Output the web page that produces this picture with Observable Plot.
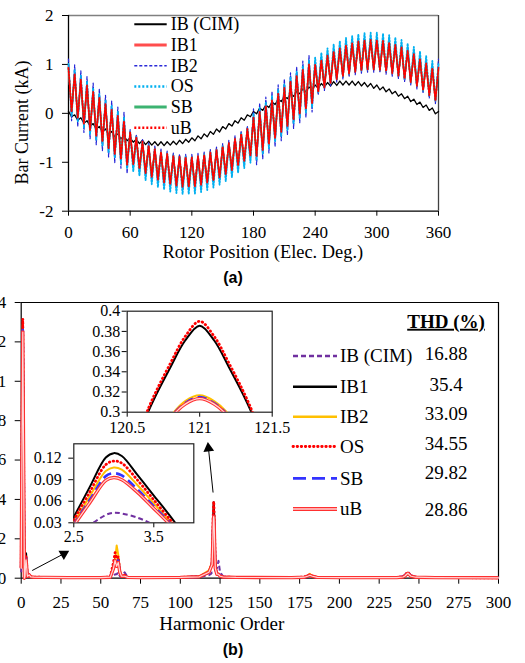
<!DOCTYPE html>
<html>
<head>
<meta charset="utf-8">
<script src="https://cdn.jsdelivr.net/npm/d3@7"></script>
<script src="https://cdn.jsdelivr.net/npm/@observablehq/plot@0.6"></script>
<style>
html,body{margin:0;padding:0;background:#fff;}
#root{position:relative;width:525px;height:663px;overflow:hidden;background:#fff;}
</style>
</head>
<body>
<div id="root"></div>
<script>
// ---------- (a) Bar current vs rotor position ----------
const angles = [0,3,6,9,12,15,18,21,24,27,30,33,36,39,42,45,48,51,54,57,60,63,66,69,72,75,78,81,84,87,90,93,96,99,102,105,108,111,114,117,120,123,126,129,132,135,138,141,144,147,150,153,156,159,162,165,168,171,174,177,180,183,186,189,192,195,198,201,204,207,210,213,216,219,222,225,228,231,234,237,240,243,246,249,252,255,258,261,264,267,270,273,276,279,282,285,288,291,294,297,300,303,306,309,312,315,318,321,324,327,330,333,336,339,342,345,348,351,354,357,360];
const ibCIM = [0.04,-0.07,-0.03,-0.14,-0.09,-0.20,-0.15,-0.26,-0.21,-0.32,
-0.27,-0.38,-0.32,-0.43,-0.37,-0.48,-0.42,-0.52,-0.46,-0.56,
-0.50,-0.59,-0.53,-0.62,-0.55,-0.64,-0.57,-0.65,-0.58,-0.66,
-0.58,-0.66,-0.58,-0.65,-0.57,-0.64,-0.55,-0.62,-0.53,-0.59,
-0.50,-0.56,-0.46,-0.52,-0.42,-0.48,-0.37,-0.43,-0.32,-0.38,
-0.27,-0.32,-0.21,-0.26,-0.15,-0.20,-0.09,-0.14,-0.03,-0.07,
0.04,-0.01,0.11,0.06,0.17,0.12,0.23,0.18,0.29,0.24,
0.35,0.30,0.40,0.35,0.45,0.40,0.50,0.44,0.54,0.48,
0.58,0.51,0.61,0.54,0.63,0.56,0.65,0.57,0.66,0.58,
0.66,0.58,0.66,0.57,0.65,0.56,0.63,0.54,0.61,0.51,
0.58,0.48,0.54,0.44,0.50,0.40,0.45,0.35,0.40,0.30,
0.35,0.24,0.29,0.18,0.23,0.12,0.17,0.06,0.11,-0.01,
0.04];
const ib1 = [0.95,0.01,0.83,-0.11,0.71,-0.23,0.59,-0.36,0.46,-0.48,
0.34,-0.60,0.21,-0.73,0.09,-0.85,-0.03,-0.96,-0.14,-1.07,
-0.37,-1.06,-0.47,-1.15,-0.56,-1.24,-0.64,-1.32,-0.71,-1.38,
-0.77,-1.43,-0.81,-1.47,-0.85,-1.50,-0.87,-1.52,-0.88,-1.52,
-0.88,-1.51,-0.86,-1.48,-0.83,-1.44,-0.78,-1.39,-0.73,-1.33,
-0.66,-1.26,-0.59,-1.18,-0.50,-1.09,-0.40,-0.99,-0.30,-0.88,
-0.07,-0.89,0.05,-0.77,0.17,-0.65,0.29,-0.52,0.42,-0.40,
0.54,-0.28,0.67,-0.15,0.79,-0.03,0.91,0.08,1.02,0.19,
1.01,0.42,1.11,0.51,1.20,0.60,1.28,0.68,1.35,0.74,
1.41,0.79,1.45,0.83,1.49,0.86,1.51,0.88,1.52,0.88,
1.52,0.87,1.50,0.84,1.47,0.80,1.42,0.75,1.37,0.69,
1.30,0.62,1.23,0.54,1.14,0.45,1.04,0.35,0.94,0.24,
0.95];
const ib2 = [1.11,-0.15,0.99,-0.27,0.87,-0.39,0.75,-0.52,0.62,-0.64,
0.50,-0.76,0.37,-0.89,0.25,-1.01,0.13,-1.12,0.02,-1.23,
-0.33,-1.10,-0.43,-1.19,-0.52,-1.28,-0.60,-1.36,-0.67,-1.42,
-0.73,-1.47,-0.77,-1.51,-0.81,-1.54,-0.83,-1.56,-0.84,-1.56,
-0.84,-1.55,-0.82,-1.52,-0.79,-1.48,-0.74,-1.43,-0.69,-1.37,
-0.62,-1.30,-0.55,-1.22,-0.46,-1.13,-0.36,-1.03,-0.26,-0.92,
0.09,-1.05,0.21,-0.93,0.33,-0.81,0.45,-0.68,0.58,-0.56,
0.70,-0.44,0.83,-0.31,0.95,-0.19,1.07,-0.08,1.18,0.03,
1.05,0.38,1.15,0.47,1.24,0.56,1.32,0.64,1.39,0.70,
1.45,0.75,1.49,0.79,1.53,0.82,1.55,0.84,1.56,0.84,
1.56,0.83,1.54,0.80,1.51,0.76,1.46,0.71,1.41,0.65,
1.34,0.58,1.27,0.50,1.18,0.41,1.08,0.31,0.98,0.20,
1.11];
const os = [1.01,-0.05,0.89,-0.17,0.77,-0.29,0.65,-0.42,0.52,-0.54,
0.40,-0.66,0.27,-0.79,0.15,-0.91,0.03,-1.02,-0.08,-1.13,
-0.38,-1.19,-0.48,-1.28,-0.57,-1.37,-0.65,-1.45,-0.72,-1.51,
-0.78,-1.56,-0.82,-1.60,-0.86,-1.63,-0.88,-1.65,-0.89,-1.65,
-0.89,-1.64,-0.87,-1.61,-0.84,-1.57,-0.79,-1.52,-0.74,-1.46,
-0.67,-1.39,-0.60,-1.31,-0.51,-1.22,-0.41,-1.12,-0.31,-1.01,
-0.01,-0.95,0.11,-0.83,0.23,-0.71,0.35,-0.58,0.48,-0.46,
0.60,-0.34,0.73,-0.21,0.85,-0.09,0.97,0.02,1.08,0.13,
1.14,0.43,1.24,0.52,1.33,0.61,1.41,0.69,1.48,0.75,
1.54,0.80,1.58,0.84,1.62,0.87,1.64,0.89,1.65,0.89,
1.65,0.88,1.63,0.85,1.60,0.81,1.55,0.76,1.50,0.70,
1.43,0.63,1.36,0.55,1.27,0.46,1.17,0.36,1.07,0.25,
1.01];
const sb = [0.91,0.05,0.79,-0.07,0.67,-0.19,0.55,-0.32,0.42,-0.44,
0.30,-0.56,0.17,-0.69,0.05,-0.81,-0.07,-0.92,-0.18,-1.03,
-0.41,-1.02,-0.51,-1.11,-0.60,-1.20,-0.68,-1.28,-0.75,-1.34,
-0.81,-1.39,-0.85,-1.43,-0.89,-1.46,-0.91,-1.48,-0.92,-1.48,
-0.92,-1.47,-0.90,-1.44,-0.87,-1.40,-0.82,-1.35,-0.77,-1.29,
-0.70,-1.22,-0.63,-1.14,-0.54,-1.05,-0.44,-0.95,-0.34,-0.84,
-0.11,-0.85,0.01,-0.73,0.13,-0.61,0.25,-0.48,0.38,-0.36,
0.50,-0.24,0.63,-0.11,0.75,0.01,0.87,0.12,0.98,0.23,
0.97,0.46,1.07,0.55,1.16,0.64,1.24,0.72,1.31,0.78,
1.37,0.83,1.41,0.87,1.45,0.90,1.47,0.92,1.48,0.92,
1.48,0.91,1.46,0.88,1.43,0.84,1.38,0.79,1.33,0.73,
1.26,0.66,1.19,0.58,1.10,0.49,1.00,0.39,0.90,0.28,
0.91];
const ub = [0.93,0.03,0.81,-0.09,0.69,-0.21,0.57,-0.34,0.44,-0.46,
0.32,-0.58,0.19,-0.71,0.07,-0.83,-0.05,-0.94,-0.16,-1.05,
-0.39,-1.04,-0.49,-1.13,-0.58,-1.22,-0.66,-1.30,-0.73,-1.36,
-0.79,-1.41,-0.83,-1.45,-0.87,-1.48,-0.89,-1.50,-0.90,-1.50,
-0.90,-1.49,-0.88,-1.46,-0.85,-1.42,-0.80,-1.37,-0.75,-1.31,
-0.68,-1.24,-0.61,-1.16,-0.52,-1.07,-0.42,-0.97,-0.32,-0.86,
-0.09,-0.87,0.03,-0.75,0.15,-0.63,0.27,-0.50,0.40,-0.38,
0.52,-0.26,0.65,-0.13,0.77,-0.01,0.89,0.10,1.00,0.21,
0.99,0.44,1.09,0.53,1.18,0.62,1.26,0.70,1.33,0.76,
1.39,0.81,1.43,0.85,1.47,0.88,1.49,0.90,1.50,0.90,
1.50,0.89,1.48,0.86,1.45,0.82,1.40,0.77,1.35,0.71,
1.28,0.64,1.21,0.56,1.12,0.47,1.02,0.37,0.92,0.26,
0.93];
const angleTicks = [0,60,120,180,240,300,360];
const currentTicks = [-2,-1,0,1,2];
const topNames = ["IB (CIM)","IB1","IB2","OS","SB","uB"];

// ---------- (b) Harmonic spectrum ----------
const harmonics = [0,1,2,2.4,2.5,2.7,2.9,3,3.1,3.3,3.5,3.7,3.8,4,5,6,8,15,30,50,56,58,59,60,61,62,63,65,67,75,100,112,118,119,120,120.5,120.65,120.8,120.9,121,121.1,121.2,121.35,121.5,122,123,124,125,127,135,170,178,180,181.5,183,186,200,236,240,241,243,245,248,260,300];
const specCIM = [0.03,0.65,0.005,0.008,0.015,0.027,0.041,0.044,0.043,0.037,0.027,0.015,0.01,0.008,0.01,0.006,0.005,0.004,0.003,0.003,0.004,0.01,0.02,0.02,0.03,0.01,0.006,0.03,0.005,0.003,0.004,0.006,0.015,0.02,0.03,0.03,0.03,0.031,0.032,0.032,0.032,0.033,0.034,0.035,0.04,0.05,0.088,0.03,0.008,0.004,0.003,0.005,0.008,0.012,0.01,0.004,0.003,0.003,0.008,0.015,0.034,0.012,0.005,0.003,0.002];
const specIB1 = [0.05,1.30,0.0,0.018,0.038,0.080,0.121,0.127,0.123,0.096,0.068,0.040,0.025,0.012,0.02,0.008,0.006,0.004,0.003,0.003,0.005,0.05,0.10,0.06,0.09,0.03,0.01,0.008,0.004,0.003,0.004,0.007,0.03,0.05,0.08,0.24,0.302,0.345,0.371,0.3857,0.371,0.345,0.302,0.24,0.06,0.02,0.02,0.01,0.006,0.004,0.003,0.005,0.01,0.015,0.01,0.004,0.003,0.003,0.006,0.01,0.02,0.01,0.005,0.003,0.002];
const specIB2 = [0.05,1.29,0.0,0.012,0.030,0.067,0.102,0.107,0.104,0.082,0.057,0.032,0.020,0.01,0.018,0.008,0.006,0.004,0.003,0.003,0.006,0.06,0.09,0.166,0.12,0.04,0.01,0.01,0.004,0.003,0.005,0.01,0.04,0.06,0.07,0.2,0.26,0.296,0.311,0.3167,0.311,0.298,0.262,0.2,0.05,0.03,0.02,0.01,0.006,0.004,0.003,0.006,0.012,0.022,0.01,0.004,0.003,0.003,0.006,0.012,0.025,0.01,0.005,0.003,0.002];
const specOS = [0.06,1.317,0.0,0.015,0.034,0.073,0.111,0.116,0.113,0.089,0.062,0.035,0.022,0.011,0.02,0.008,0.006,0.004,0.003,0.003,0.006,0.08,0.13,0.10,0.11,0.03,0.01,0.015,0.004,0.003,0.004,0.008,0.03,0.05,0.08,0.245,0.305,0.349,0.375,0.39,0.375,0.349,0.305,0.245,0.06,0.02,0.02,0.01,0.006,0.004,0.003,0.006,0.012,0.02,0.01,0.004,0.003,0.003,0.008,0.015,0.03,0.012,0.005,0.003,0.002];
const specSB = [0.05,1.26,0.0,0.010,0.028,0.062,0.095,0.099,0.096,0.076,0.053,0.030,0.018,0.01,0.018,0.007,0.005,0.004,0.003,0.003,0.005,0.05,0.08,0.07,0.09,0.03,0.01,0.01,0.004,0.003,0.004,0.007,0.03,0.05,0.07,0.2,0.258,0.295,0.309,0.315,0.309,0.296,0.26,0.2,0.05,0.02,0.03,0.01,0.006,0.004,0.003,0.005,0.01,0.015,0.01,0.004,0.003,0.003,0.008,0.012,0.03,0.012,0.005,0.003,0.002];
const specUB = [0.05,1.25,0.0,0.008,0.026,0.058,0.089,0.093,0.090,0.072,0.050,0.028,0.017,0.009,0.017,0.007,0.005,0.004,0.003,0.003,0.005,0.05,0.09,0.06,0.08,0.03,0.01,0.01,0.004,0.003,0.004,0.007,0.03,0.05,0.07,0.198,0.256,0.294,0.308,0.3134,0.308,0.295,0.258,0.198,0.05,0.02,0.02,0.01,0.006,0.004,0.003,0.005,0.01,0.015,0.01,0.004,0.003,0.003,0.006,0.01,0.025,0.01,0.005,0.003,0.002];
const harmonicTicks = [0,25,50,75,100,125,150,175,200,225,250,275,300];
const magnitudeTicks = [0,0.2,0.4,0.6,0.8,1,1.2,1.4];
const zoomHighXTicks = [120.5,121,121.5];
const zoomHighYTicks = [0.3,0.32,0.34,0.36,0.38,0.4];
const zoomLowXTicks = [2.5,3.5];
const zoomLowYTicks = [0.03,0.06,0.09,0.12];
const specNames = ["IB (CIM)","IB1","IB2","OS","SB","uB"];
const thdValues = ["16.88","35.4","33.09","34.55","29.82","28.86"];
const arrowStartH = [6.9,120.6], arrowStartM = [0.039,0.435];
const arrowEndH = [26.8,117.7], arrowEndM = [0.124,0.66];
const arrowHeadTurn = [180,-6];

// ---------- rendering ----------
const root = document.getElementById("root");
const serif = '"Liberation Serif","Times New Roman",serif';
function place(node, left, top) {
  node.style.position = "absolute";
  node.style.left = left + "px";
  node.style.top = top + "px";
  root.appendChild(node);
}
const fmt = d => String(d);

const topStyles = [
  {stroke:"#000000", strokeWidth:1.3},
  {stroke:"#ff3d3d", strokeWidth:1.5},
  {stroke:"#2525d8", strokeWidth:1.2, strokeDasharray:"3,2"},
  {stroke:"#00b0f0", strokeWidth:1.8, strokeDasharray:"1.6,1.6"},
  {stroke:"#2ea862", strokeWidth:1.5},
  {stroke:"#ff0000", strokeWidth:1.8, strokeDasharray:"1.6,1.6"}
];
const topValues = [ibCIM, ib1, ib2, os, sb, ub];

const topChart = Plot.plot({
  width: 525, height: 262,
  marginLeft: 68, marginRight: 87, marginTop: 15, marginBottom: 51.3,
  style: {fontFamily: serif, fontSize: "17px", color: "#000", background: "transparent"},
  x: {domain: [0, 360], ticks: angleTicks, tickSize: 5, tickPadding: 10, tickFormat: fmt, label: null},
  y: {domain: [-2, 2], ticks: currentTicks, tickSize: 6, tickPadding: 9, tickFormat: fmt, label: null},
  marks: [
    Plot.ruleY([2], {stroke: "#808080", strokeWidth: 1.3}),
    Plot.ruleX([360], {stroke: "#404040", strokeWidth: 1.3}),
    Plot.ruleY([-2], {stroke: "#000", strokeWidth: 1.3}),
    Plot.ruleX([0], {stroke: "#000", strokeWidth: 1.3}),
    ...topValues.map((v, k) => Plot.lineY(v, {x: angles, ...topStyles[k]}))
  ]
});
place(topChart, 0, 0);

const specValues = [specCIM, specIB1, specIB2, specOS, specSB, specUB];
const specStyles = [
  {stroke:"#7030a0", strokeWidth:2, strokeDasharray:"5,3"},
  {stroke:"#000000", strokeWidth:2},
  {stroke:"#ffc000", strokeWidth:2},
  {stroke:"#ff0000", strokeWidth:2.8, strokeDasharray:"0.5,3.5", strokeLinecap:"round"},
  {stroke:"#3333ff", strokeWidth:2.6, strokeDasharray:"9,5", strokeLinecap:"butt"},
  {stroke:"#ff3030", strokeWidth:3.4, inner:"#ffd6d6"}
];
function specMarks(idx, curve, clip) {
  const marks = [];
  specValues.forEach((vals, k) => {
    const s = specStyles[k];
    const base = {x: i => harmonics[i], y: i => vals[i], curve, clip};
    marks.push(Plot.line(idx, {...base, stroke: s.stroke, strokeWidth: s.strokeWidth,
      strokeDasharray: s.strokeDasharray, strokeLinecap: s.strokeLinecap || "butt"}));
    if (s.inner) marks.push(Plot.line(idx, {...base, stroke: s.inner, strokeWidth: 1.2}));
  });
  return marks;
}
const allIdx = harmonics.map((h, i) => i);
const rangeIdx = (lo, hi) => allIdx.filter(i => harmonics[i] >= lo && harmonics[i] <= hi);

const mainChart = Plot.plot({
  width: 525, height: 355,
  marginLeft: 20.7, marginRight: 27, marginTop: 22, marginBottom: 57.3,
  style: {fontFamily: serif, fontSize: "17px", color: "#000", background: "transparent"},
  x: {domain: [0, 300], ticks: harmonicTicks, tickSize: 6, tickPadding: 12, tickFormat: fmt, label: null},
  y: {domain: [0, 1.4], ticks: magnitudeTicks, tickSize: 6, tickPadding: 9, tickFormat: fmt, label: null},
  marks: [
    Plot.ruleY([1.4], {stroke: "#000", strokeWidth: 1.2}),
    Plot.ruleX([300], {stroke: "#000", strokeWidth: 1.2}),
    Plot.ruleY([0], {stroke: "#000", strokeWidth: 1.2}),
    Plot.ruleX([0], {stroke: "#000", strokeWidth: 1.2}),
    ...specMarks(allIdx, "linear", false),
    Plot.link(arrowStartH, {x1: arrowStartH, y1: arrowStartM, x2: arrowEndH, y2: arrowEndM, stroke: "#000", strokeWidth: 1}),
    Plot.dot(arrowEndH, {x: arrowEndH, y: arrowEndM, symbol: "triangle", r: 4, fill: "#000", stroke: null, rotate: arrowHeadTurn})
  ]
});
place(mainChart, 0, 280);

const zoomHigh = Plot.plot({
  width: 230, height: 140,
  marginLeft: 56.7, marginRight: 28.3, marginTop: 10.7, marginBottom: 28.3,
  style: {fontFamily: serif, fontSize: "16px", color: "#000", background: "transparent"},
  x: {domain: [120.5, 121.5], ticks: zoomHighXTicks, tickSize: 5, tickPadding: 4.5, tickFormat: fmt, label: null},
  y: {domain: [0.3, 0.4], ticks: zoomHighYTicks, tickSize: 5, tickPadding: 2, tickFormat: fmt, label: null},
  marks: [
    Plot.frame({fill: "#fff", stroke: "#222", strokeWidth: 1.2}),
    ...specMarks(rangeIdx(120.4, 121.6), "catmull-rom", true)
  ]
});
place(zoomHigh, 70, 300);

const zoomLow = Plot.plot({
  width: 190, height: 115,
  marginLeft: 53.3, marginRight: 16.7, marginTop: 8.3, marginBottom: 27.7,
  style: {fontFamily: serif, fontSize: "16px", color: "#000", background: "transparent"},
  x: {domain: [2.5, 4], ticks: zoomLowXTicks, tickSize: 5, tickPadding: 3, tickFormat: fmt, label: null},
  y: {domain: [0.03, 0.14], ticks: zoomLowYTicks, tickSize: 5, tickPadding: 7, tickFormat: fmt, label: null},
  marks: [
    Plot.frame({fill: "#fff", stroke: "#222", strokeWidth: 1.2}),
    ...specMarks(rangeIdx(2.3, 3.9), "catmull-rom", true)
  ]
});
place(zoomLow, 20, 435);

// ---------- text overlay: titles, legends, THD table ----------
const ov = d3.create("svg").attr("width", 525).attr("height", 663)
  .attr("font-family", serif).style("pointer-events", "none");
function text(x, y, s, size, extra = {}) {
  const t = ov.append("text").attr("x", x).attr("y", y).attr("font-size", size).text(s);
  for (const [k, v] of Object.entries(extra)) t.attr(k, v);
  return t;
}
text(0, 0, "Bar Current (kA)", 18, {"text-anchor": "middle", dy: "0.33em", transform: "translate(22.5,122.5) rotate(-90)"});
text(262.8, 258, "Rotor Position (Elec. Deg.)", 18.4, {"text-anchor": "middle"});
text(233, 283, "(a)", 16, {"text-anchor": "middle", "font-family": '"Liberation Sans",Arial,sans-serif', "font-weight": "bold"});
text(221.7, 630, "Harmonic Order", 19, {"text-anchor": "middle"});
text(233, 655, "(b)", 16, {"text-anchor": "middle", "font-family": '"Liberation Sans",Arial,sans-serif', "font-weight": "bold"});

// top legend
const topLegendStyles = [
  {stroke:"#000", w:2},
  {stroke:"#ff4d4d", w:3},
  {stroke:"#2a2ad8", w:1.5, dash:"3,2"},
  {stroke:"#00b0f0", w:2.5, dash:"2,2"},
  {stroke:"#3cb371", w:3},
  {stroke:"#ff0000", w:2.5, dash:"2,2"}
];
topNames.forEach((name, k) => {
  const y = 24.3 + 20.7 * k, st = topLegendStyles[k];
  ov.append("line").attr("x1", 134.3).attr("x2", 166.7).attr("y1", y).attr("y2", y)
    .attr("stroke", st.stroke).attr("stroke-width", st.w).attr("stroke-dasharray", st.dash || null);
  text(170.7, y, name, 18, {dy: "0.33em"});
});

// bottom legend + THD
const botRowY = [356, 386.7, 416.7, 446.5, 478.3, 509];
const thdRowY = [354, 384.7, 414, 443.3, 473, 509.3];
const botLegendStyles = [
  {stroke:"#7030a0", w:2.5, dash:"5,3"},
  {stroke:"#000", w:2.5},
  {stroke:"#ffc000", w:2.5},
  {stroke:"#ff0000", w:2.8, dash:"0.5,3.6", cap:"round"},
  {stroke:"#3333ff", w:2.8, dash:"13,6"},
  {stroke:"#ff3030", w:4, inner:"#ffd6d6"}
];
specNames.forEach((name, k) => {
  const y = botRowY[k], st = botLegendStyles[k];
  ov.append("line").attr("x1", 293).attr("x2", 337).attr("y1", y).attr("y2", y)
    .attr("stroke", st.stroke).attr("stroke-width", st.w).attr("stroke-dasharray", st.dash || null)
    .attr("stroke-linecap", st.cap || "butt");
  if (st.inner) ov.append("line").attr("x1", 293).attr("x2", 337).attr("y1", y).attr("y2", y)
    .attr("stroke", st.inner).attr("stroke-width", 1.5);
  text(340, y, name, 19, {dy: "0.33em"});
  text(446, thdRowY[k], thdValues[k], 19, {dy: "0.33em", "text-anchor": "middle"});
});
text(446, 321.5, "THD (%)", 19, {dy: "0.33em", "text-anchor": "middle", "font-weight": "bold", "text-decoration": "underline"});

place(ov.node(), 0, 0);
</script>
</body>
</html>
